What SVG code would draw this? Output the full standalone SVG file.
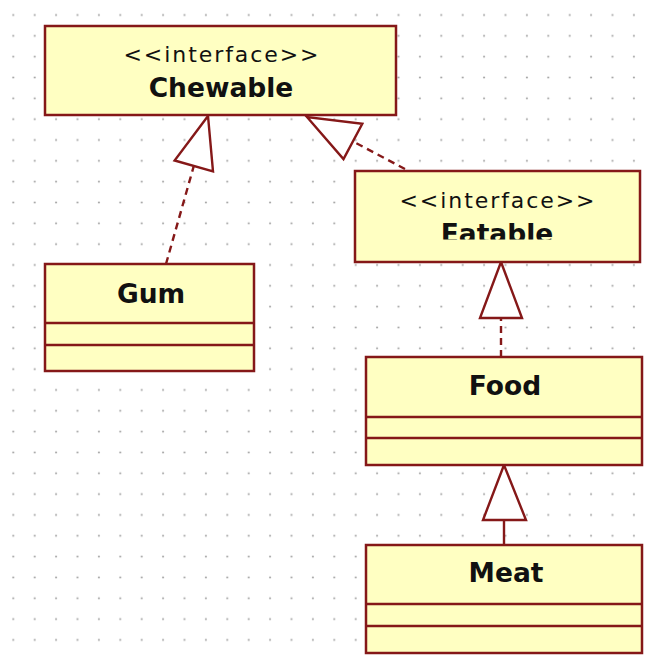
<svg xmlns="http://www.w3.org/2000/svg" width="652" height="655" viewBox="0 0 652 655">
<defs>
<pattern id="grid" x="2.6" y="4.6" width="21.4" height="20.83" patternUnits="userSpaceOnUse">
<circle cx="10.7" cy="10.4" r="1.1" fill="#a8a8a8"/>
</pattern>
<clipPath id="eatClip"><rect x="355" y="171" width="285" height="68.5"/></clipPath>
</defs>
<style>
.box{fill:#ffffc2;stroke:#851818;stroke-width:2.5}
.sep{stroke:#851818;stroke-width:2.5;fill:none}
.stereo{font-family:"DejaVu Sans",Verdana,sans-serif;font-size:22px;fill:#111;text-anchor:middle}
.name{font-family:"DejaVu Sans","Liberation Sans",sans-serif;font-weight:bold;font-size:26.5px;fill:#111;text-anchor:middle}
.dash{stroke:#851818;stroke-width:2.4;fill:none;stroke-dasharray:7 5}
.solid{stroke:#851818;stroke-width:2.4;fill:none}
.head{fill:#ffffff;stroke:#851818;stroke-width:2.4;stroke-linejoin:miter}
</style>
<rect width="652" height="655" fill="#ffffff"/>
<rect width="652" height="655" fill="url(#grid)"/>

<g id="connectors">
<line class="dash" x1="166" y1="264" x2="193.8" y2="166"/>
<polygon class="head" points="208,116 174.6,160.5 213,171.4"/>
<line class="dash" x1="405" y1="169" x2="352.9" y2="141.4"/>
<polygon class="head" points="307,117 343.5,159.1 362.3,123.7"/>
<line class="dash" x1="501" y1="357" x2="501" y2="318"/>
<polygon class="head" points="501,262 480,318 522,318"/>
<line class="solid" x1="504" y1="545" x2="504" y2="520"/>
<polygon class="head" points="504,465 483,520 526,520"/>
</g>

<g id="chewable">
<rect class="box" x="45" y="26" width="351" height="89"/>
<text class="stereo" x="221" y="62" textLength="195" lengthAdjust="spacing">&lt;&lt;interface&gt;&gt;</text>
<text class="name" x="221" y="97">Chewable</text>
</g>

<g id="eatable">
<rect class="box" x="355" y="171" width="285" height="91"/>
<text class="stereo" x="497" y="208" textLength="195" lengthAdjust="spacing">&lt;&lt;interface&gt;&gt;</text>
<text class="name" x="497" y="243" clip-path="url(#eatClip)">Eatable</text>
</g>

<g id="gum">
<rect class="box" x="45" y="264" width="209" height="107"/>
<line class="sep" x1="45" y1="323" x2="254" y2="323"/>
<line class="sep" x1="45" y1="345" x2="254" y2="345"/>
<text class="name" x="151" y="303">Gum</text>
</g>

<g id="food">
<rect class="box" x="366" y="357" width="276" height="108"/>
<line class="sep" x1="366" y1="417" x2="642" y2="417"/>
<line class="sep" x1="366" y1="438" x2="642" y2="438"/>
<text class="name" x="505" y="395">Food</text>
</g>

<g id="meat">
<rect class="box" x="366" y="545" width="276" height="108"/>
<line class="sep" x1="366" y1="604" x2="642" y2="604"/>
<line class="sep" x1="366" y1="626" x2="642" y2="626"/>
<text class="name" x="506" y="582">Meat</text>
</g>
</svg>
